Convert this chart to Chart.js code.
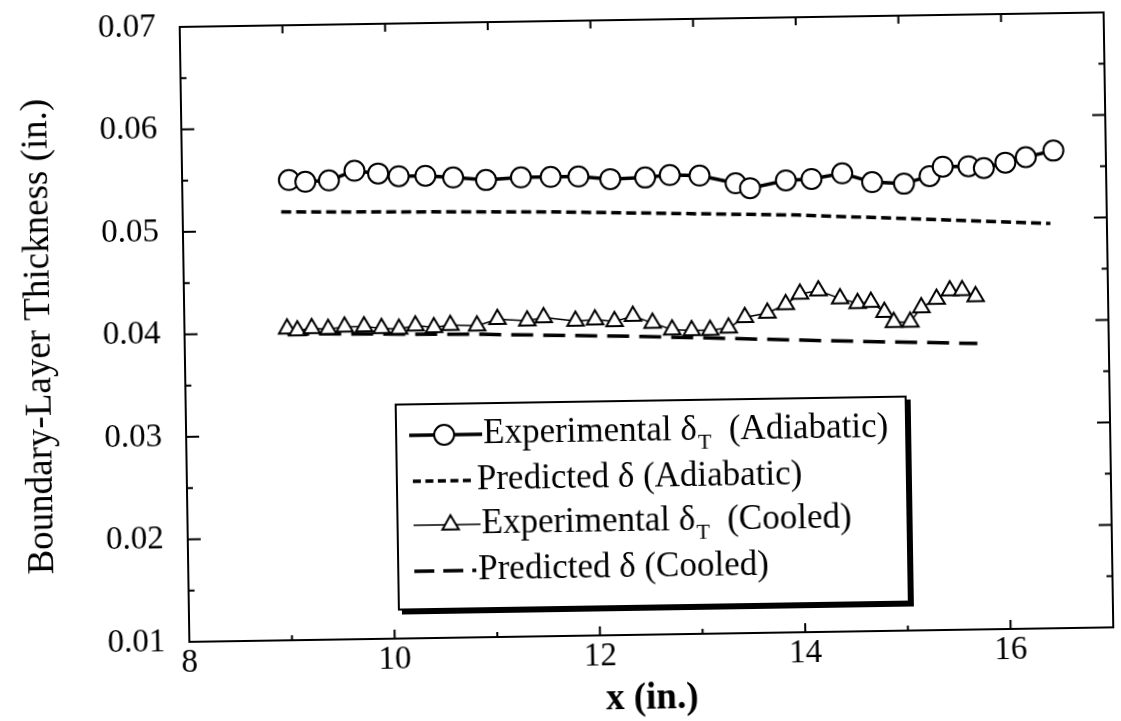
<!DOCTYPE html>
<html>
<head>
<meta charset="utf-8">
<script src="https://cdn.jsdelivr.net/npm/chart.js@4.4.1/dist/chart.umd.min.js"></script>
<style>
  html, body { margin: 0; padding: 0; background: #fff; overflow: hidden; }
  #wrap { width: 1121px; height: 721px; transform: rotate(-0.9deg); transform-origin: 560.5px 360.5px; }
  canvas { display: block; }
</style>
</head>
<body>
<div id="wrap"><canvas id="chart" width="1121" height="721"></canvas></div>
<script>
// Experimental thermal boundary-layer thickness, adiabatic wall (circles)
const expAdiabaticX = [9.04, 9.20, 9.43, 9.68, 9.91, 10.11, 10.37, 10.64, 10.96, 11.30,
  11.59, 11.86, 12.17, 12.51, 12.75, 13.04, 13.39, 13.53, 13.88, 14.13,
  14.43, 14.72, 15.03, 15.28, 15.41, 15.66, 15.81, 16.02, 16.22, 16.49];
const expAdiabaticY = [0.0549, 0.0547, 0.0548, 0.0557, 0.0554, 0.0551, 0.0551, 0.0549, 0.0546, 0.0548,
  0.0548, 0.0548, 0.0545, 0.0546, 0.0548, 0.0547, 0.0539, 0.0534, 0.0541, 0.0542,
  0.0547, 0.0538, 0.0536, 0.0543, 0.0552, 0.0552, 0.0550, 0.0555, 0.0560, 0.0566];

// Predicted boundary-layer thickness, adiabatic wall
const predAdiabaticX = [8.96, 11.55, 14.0, 16.45];
const predAdiabaticY = [0.0518, 0.0514, 0.0507, 0.0495];

// Experimental thermal boundary-layer thickness, cooled wall (triangles)
const expCooledX = [9.00, 9.10, 9.24, 9.40, 9.56, 9.75, 9.92, 10.09, 10.25, 10.43,
  10.59, 10.85, 11.05, 11.34, 11.50, 11.81, 12.00, 12.19, 12.37, 12.56,
  12.75, 12.94, 13.12, 13.30, 13.46, 13.68, 13.86, 14.00, 14.18, 14.39,
  14.56, 14.69, 14.82, 14.91, 15.07, 15.18, 15.33, 15.46, 15.58, 15.71];
const expCooledY = [0.0404, 0.0402, 0.0404, 0.0403, 0.0405, 0.0405, 0.0403, 0.0402, 0.0405, 0.0403,
  0.0405, 0.0404, 0.0410, 0.0408, 0.0411, 0.0407, 0.0408, 0.0406, 0.0411, 0.0404,
  0.0397, 0.0396, 0.0396, 0.0398, 0.0408, 0.0412, 0.0420, 0.0430, 0.0433, 0.0425,
  0.0420, 0.0421, 0.0411, 0.0401, 0.0401, 0.0415, 0.0423, 0.0431, 0.0431, 0.0425];

// Predicted boundary-layer thickness, cooled wall
const predCooledX = [9.0, 10.9, 12.45, 14.25, 15.72];
const predCooledY = [0.0399, 0.03955, 0.0391, 0.0384, 0.0379];

// Axis tick labels
const xTickLabels = ['8', '10', '12', '14', '16'];
const yTickLabels = ['0.01', '0.02', '0.03', '0.04', '0.05', '0.06', '0.07'];

const SERIF = '"Liberation Serif", "Times New Roman", Times, serif';
const pts = (xs, ys) => xs.map((x, i) => ({ x, y: ys[i] }));

// Inward tick marks on all four sides plus the plot frame
const frameTicks = {
  id: 'frameTicks',
  afterDatasetsDraw(chart) {
    const { ctx, chartArea: a, scales: { x, y } } = chart;
    ctx.save();
    ctx.strokeStyle = '#000';
    ctx.lineWidth = 2;
    ctx.strokeRect(a.left, a.top, a.right - a.left, a.bottom - a.top);
    ctx.beginPath();
    for (let k = 2; k <= 14; k++) {
      const py = y.getPixelForValue(k * 0.005);
      const l = k % 2 === 0 ? 13 : 6;
      ctx.moveTo(a.left, py); ctx.lineTo(a.left + l, py);
      ctx.moveTo(a.right, py); ctx.lineTo(a.right - l, py);
    }
    for (let v = 8; v <= 17; v++) {
      const px = x.getPixelForValue(v);
      const lb = v % 2 === 0 ? 9 : 5;
      ctx.moveTo(px, a.bottom); ctx.lineTo(px, a.bottom - lb);
      ctx.moveTo(px, a.top); ctx.lineTo(px, a.top + 8);
    }
    ctx.stroke();
    ctx.restore();
  }
};

// Boxed legend with shadowed right/bottom edges and subscripted delta
const legendBox = {
  id: 'legendBox',
  afterDraw(chart) {
    const { ctx } = chart;
    const L = 395, T = 402, R = 905, B = 607;
    ctx.save();
    ctx.fillStyle = '#fff';
    ctx.fillRect(L, T, R - L, B - T);
    ctx.fillStyle = '#000';
    ctx.fillRect(R, T + 3, 5, B - T + 2);
    ctx.fillRect(L + 3, B, R - L + 2, 5);
    ctx.strokeStyle = '#000';
    ctx.lineWidth = 2;
    ctx.strokeRect(L, T, R - L, B - T);

    const rows = [
      { ds: 0, y: 433, x0: 408, x1: 481, mx: 443, tx: 482, main: 'Experimental δ', sub: 'T', tail: '  (Adiabatic)' },
      { ds: 1, y: 479, x0: 411, x1: 473, tx: 475, main: 'Predicted δ (Adiabatic)' },
      { ds: 2, y: 523, x0: 411, x1: 478, mx: 448, tx: 479, main: 'Experimental δ', sub: 'T', tail: '  (Cooled)' },
      { ds: 3, y: 569, x0: 411, x1: 473, tx: 475, main: 'Predicted δ (Cooled)' }
    ];
    rows.forEach(r => {
      const d = chart.data.datasets[r.ds];
      ctx.save();
      ctx.strokeStyle = '#000';
      ctx.lineWidth = d.borderWidth;
      ctx.setLineDash(d.legendDash || []);
      ctx.beginPath();
      ctx.moveTo(r.x0, r.y); ctx.lineTo(r.x1, r.y);
      ctx.stroke();
      ctx.restore();
      if (r.mx) {
        ctx.save();
        ctx.fillStyle = '#fff';
        ctx.strokeStyle = '#000';
        ctx.lineWidth = d.pointBorderWidth;
        Chart.helpers.drawPoint(ctx, {
          pointStyle: d.pointStyle, radius: d.pointRadius, borderWidth: d.pointBorderWidth
        }, r.mx, r.y);
        ctx.restore();
      }
      ctx.fillStyle = '#000';
      ctx.textBaseline = 'middle';
      ctx.font = '35px ' + SERIF;
      ctx.fillText(r.main, r.tx, r.y);
      if (r.sub) {
        let xx = r.tx + ctx.measureText(r.main).width + 1;
        ctx.font = '22px ' + SERIF;
        ctx.fillText(r.sub, xx, r.y + 12);
        xx += ctx.measureText(r.sub).width;
        ctx.font = '35px ' + SERIF;
        ctx.fillText(r.tail, xx, r.y);
      }
    });
    ctx.restore();
  }
};

Chart.defaults.font.family = SERIF;
Chart.defaults.color = '#000';

new Chart(document.getElementById('chart'), {
  type: 'scatter',
  data: {
    datasets: [
      {
        label: 'Experimental δT (Adiabatic)',
        data: pts(expAdiabaticX, expAdiabaticY),
        showLine: true, borderColor: '#000', borderWidth: 3.5,
        pointStyle: 'circle', pointRadius: 10, pointBorderWidth: 2,
        pointBackgroundColor: '#fff', pointBorderColor: '#000', order: 0
      },
      {
        label: 'Predicted δ (Adiabatic)',
        data: pts(predAdiabaticX, predAdiabaticY),
        showLine: true, borderColor: '#000', borderWidth: 3.5,
        borderDash: [10, 5], legendDash: [8, 4.5], pointRadius: 0, order: 2
      },
      {
        label: 'Experimental δT (Cooled)',
        data: pts(expCooledX, expCooledY),
        showLine: true, borderColor: '#000', borderWidth: 1.5,
        pointStyle: 'triangle', pointRadius: 9.5, pointBorderWidth: 2,
        pointBackgroundColor: '#fff', pointBorderColor: '#000', order: 1
      },
      {
        label: 'Predicted δ (Cooled)',
        data: pts(predCooledX, predCooledY),
        showLine: true, borderColor: '#000', borderWidth: 3.5,
        borderDash: [22, 10], legendDash: [20, 9], pointRadius: 0, order: 3
      }
    ]
  },
  options: {
    responsive: false,
    animation: false,
    devicePixelRatio: 1,
    layout: { padding: { top: 21, right: 3, left: 0, bottom: 0 } },
    plugins: { legend: { display: false }, tooltip: { enabled: false } },
    scales: {
      x: {
        type: 'linear', min: 8, max: 17,
        grid: { display: false, drawTicks: false },
        border: { display: false },
        ticks: {
          stepSize: 1, autoSkip: false, maxRotation: 0, padding: 5,
          font: { size: 33, lineHeight: 1 },
          callback: (v) => xTickLabels.includes(String(v)) ? String(v) : ''
        },
        title: {
          display: true, text: 'x (in.)',
          font: { size: 37, weight: 'bold', lineHeight: 1 },
          padding: { top: 0, bottom: 2 }
        },
        afterFit: (s) => { s.height = 85; s.paddingLeft = 0; s.paddingRight = 0; }
      },
      y: {
        type: 'linear', min: 0.01, max: 0.07,
        grid: { display: false, drawTicks: false },
        border: { display: false },
        ticks: {
          stepSize: 0.005, autoSkip: false, padding: 24,
          font: { size: 33 },
          callback: (v) => {
            const s = v.toFixed(2);
            return Math.abs(v - Number(s)) < 1e-6 && yTickLabels.includes(s) ? s : '';
          }
        },
        title: {
          display: true, text: 'Boundary-Layer Thickness (in.)',
          font: { size: 37, lineHeight: 1 },
          padding: { top: 22, bottom: 0 }
        },
        afterFit: (s) => { s.width = 185; s.paddingTop = 0; s.paddingBottom = 0; }
      }
    }
  },
  plugins: [frameTicks, legendBox]
});
</script>
</body>
</html>
